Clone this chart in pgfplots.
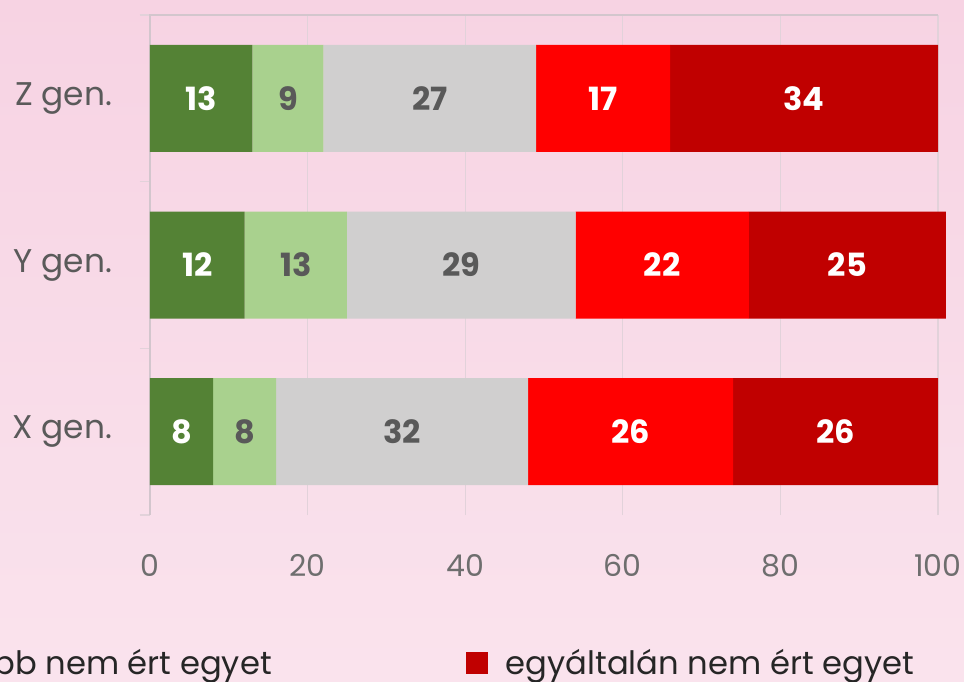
\documentclass[border=0pt]{standalone}
\usepackage{fontspec}
\setmainfont{Poppins}
\usepackage{pgfplots}
\usepackage{pgfplotstable}
\pgfplotsset{compat=1.18}

\definecolor{dgreen}{HTML}{548235}
\definecolor{lgreen}{HTML}{A9D18E}
\definecolor{lgray}{HTML}{D0CFCF}
\definecolor{redc}{HTML}{FF0000}
\definecolor{dredc}{HTML}{C00000}
\definecolor{labc}{HTML}{595959}
\definecolor{tickc}{HTML}{6E6E6E}
\definecolor{catc}{HTML}{5A5A5A}
\definecolor{gridc}{HTML}{E2D2DA}
\definecolor{bgtop}{HTML}{F7D3E3}
\definecolor{bgbot}{HTML}{FAE3ED}

% segment values per generation (X=0, Y=1, Z=2)
\pgfplotstableread{
y a b c d e
0 8 8 32 26 26
1 12 13 29 22 25
2 13 9 27 17 34
}\gens

\begin{document}
\begin{tikzpicture}
\shade[top color=bgtop,bottom color=bgbot] (-75pt,-83pt) rectangle (407pt,257.5pt);
\begin{axis}[
    scale only axis,
    width=394pt, height=250pt,
    xbar stacked,
    bar width=53.5pt,
    xmin=0, xmax=100, ymin=-0.5, ymax=2.5,
    clip=false,
    axis line style={draw=none},
    xtick={0,20,...,100},
    ytick={0,1,2},
    yticklabels={X gen.,Y gen.,Z gen.},
    minor ytick={-0.5,0.5,1.5,2.5},
    major tick length=0pt, minor tick length=5pt,
    tick align=outside, tick pos=left,
    minor tick style={gridc, line width=0.6pt},
    xmajorgrids,
    grid style={gridc, line width=0.6pt},
    xticklabel style={font=\fontsize{15}{18}\selectfont, text=tickc, yshift=-16pt},
    yticklabel style={font=\fontsize{16.4}{19}\selectfont, text=catc, xshift=-15.5pt},
    /pgf/number format/assume math mode=true,
    point meta=explicit symbolic,
    nodes near coords,
    every node near coord/.append style={anchor=center,
      font=\fontsize{16}{19}\selectfont\bfseries},
    legend columns=2,
    legend image code/.code={\fill[#1] (0pt,-5.5pt) rectangle (11pt,5.5pt);},
    legend style={at={(rel axis cs:0.975,-0.296)}, anchor=east,
      draw=none, fill=none, inner sep=0pt,
      font=\fontsize{16.1}{19}\selectfont, text=black!85,
      /tikz/every even column/.append style={column sep=95pt},
      /tikz/every odd column/.append style={column sep=7pt}},
]
\addlegendimage{fill=redc, draw=none}
\addlegendimage{fill=dredc, draw=none}

\addplot[fill=dgreen, draw=none, nodes near coords style={text=white}]
  table[x=a, y=y, meta=a] {\gens};
\addplot[fill=lgreen, draw=none, nodes near coords style={text=labc}]
  table[x=b, y=y, meta=b] {\gens};
\addplot[fill=lgray, draw=none, nodes near coords style={text=labc}]
  table[x=c, y=y, meta=c] {\gens};
\addplot[fill=redc, draw=none, nodes near coords style={text=white}]
  table[x=d, y=y, meta=d] {\gens};
\addplot[fill=dredc, draw=none, nodes near coords style={text=white}]
  table[x=e, y=y, meta=e] {\gens};

\legend{inkább nem ért egyet, egyáltalán nem ért egyet}

\draw[gridc!85!gray, line width=0.6pt] (rel axis cs:0,0) -- (rel axis cs:0,1) -- (rel axis cs:1,1);
\end{axis}
\pgfresetboundingbox
\useasboundingbox (-75pt,-83pt) rectangle (407pt,257.5pt);
\end{tikzpicture}
\end{document}
